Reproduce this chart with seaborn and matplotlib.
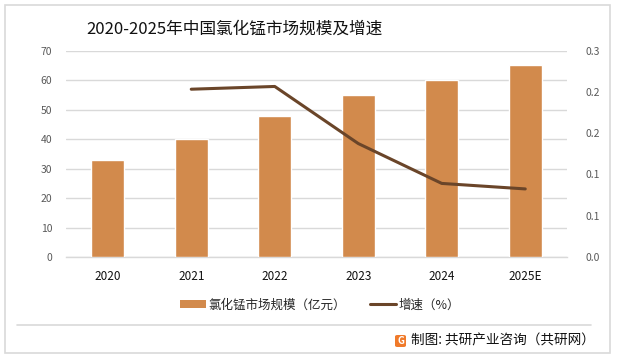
import matplotlib
matplotlib.use("Agg")
import matplotlib.pyplot as plt
import seaborn as sns
import pandas as pd
from matplotlib.ticker import FuncFormatter, MultipleLocator
from matplotlib.patches import Patch, Rectangle, FancyBboxPatch
from matplotlib.lines import Line2D

years = ["2020", "2021", "2022", "2023", "2024", "2025E"]
market_size = [33, 40, 48, 55, 60, 65]
growth_years = ["2021", "2022", "2023", "2024", "2025E"]
growth_rate = [0.244, 0.248, 0.165, 0.107, 0.099]

title = "2020-2025年中国氯化锰市场规模及增速"
bar_label = "氯化锰市场规模（亿元）"
line_label = "增速（%）"
source = "制图: 共研产业咨询（共研网）"

sns.set_theme(style="white")
plt.rcParams["font.family"] = ["Noto Sans CJK SC", "DejaVu Sans"]

BAR = "#D28A4C"
LINE = "#6A4529"
GRID = "#D9D9D9"

W, H = 618, 359
fig = plt.figure(figsize=(W / 100, H / 100), dpi=100)
ax = fig.add_axes([66 / W, 1 - 257 / H, (567 - 66) / W, (257 - 50.7) / H])

df_bar = pd.DataFrame({"year": years, "size": market_size})
sns.barplot(data=df_bar, x="year", y="size", order=years, color=BAR,
            saturation=1, width=0.4, ax=ax, zorder=3)
ax.set_xlim(-0.5, len(years) - 0.5)
ax.set_ylim(0, 70)
ax.yaxis.set_major_locator(MultipleLocator(10))
ax.grid(axis="y", color=GRID, linewidth=1, zorder=0)
ax.set_axisbelow(True)
for s in ["top", "right", "left"]:
    ax.spines[s].set_visible(False)
ax.spines["bottom"].set_color(GRID)
ax.spines["bottom"].set_linewidth(1)
ax.set_xlabel("")
ax.set_ylabel("")
ax.tick_params(axis="x", length=0, pad=9, labelsize=8.5, labelcolor="#111111")
ax.tick_params(axis="y", length=0, pad=10, labelsize=7.5, labelcolor="#595959")

ax2 = ax.twinx()
df_line = pd.DataFrame({"year": growth_years, "rate": growth_rate})
sns.pointplot(data=df_line, x="year", y="rate", order=years, color=LINE,
              markers="", linestyles="-", errorbar=None, ax=ax2,
              linewidth=2.2)
ax2.set_xlim(-0.5, len(years) - 0.5)
ax2.set_ylim(0, 0.3)
ax2.yaxis.set_major_locator(MultipleLocator(0.06))
ax2.yaxis.set_major_formatter(FuncFormatter(lambda v, p: "%.1f" % v))
for s in ["top", "right", "left", "bottom"]:
    ax2.spines[s].set_visible(False)
ax2.set_ylabel("")
ax2.set_xlabel("")
ax2.tick_params(axis="y", length=0, pad=13, labelsize=7.5, labelcolor="#595959")
ax2.grid(False)

fig.text(234 / W, 1 - 29 / H, title, ha="center", va="center", fontsize=12,
         color="#111111")

handles = [Patch(facecolor=BAR, edgecolor="none"),
           Line2D([0], [0], color=LINE, linewidth=2.2)]
fig.legend(handles, [bar_label, line_label], loc="center",
           bbox_to_anchor=(320 / W, 1 - 305 / H), ncol=2, frameon=False,
           fontsize=9, handlelength=2.1, handleheight=0.6, handletextpad=0.2,
           columnspacing=1.9)

# frame and footer
fig.patches.append(Rectangle((5 / W, 1 - 353 / H), (610 - 5) / W, (353 - 5) / H,
                             transform=fig.transFigure, fill=False,
                             edgecolor=GRID, linewidth=1.2))
fig.lines.append(Line2D([17 / W, 591 / W], [1 - 325 / H, 1 - 325 / H],
                        transform=fig.transFigure, color=GRID, linewidth=1.2))
fig.patches.append(FancyBboxPatch((395 / W, 1 - 347 / H), 11 / W, 12 / H,
                                  boxstyle="round,pad=0,rounding_size=0.004",
                                  transform=fig.transFigure, facecolor="#F07A2A",
                                  edgecolor="none"))
fig.text(400.5 / W, 1 - 341 / H, "G", ha="center", va="center", fontsize=7,
         color="white", fontweight="bold")
fig.text(411 / W, 1 - 341 / H, source, ha="left", va="center", fontsize=9.8,
         color="#111111")

fig.savefig("out.png", dpi=100)
